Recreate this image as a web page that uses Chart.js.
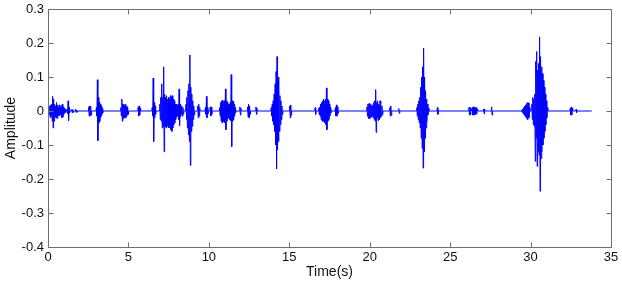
<!DOCTYPE html>
<html>
<head>
<meta charset="utf-8">
<script src="https://cdn.jsdelivr.net/npm/chart.js@4.4.1/dist/chart.umd.min.js"></script>
<style>
  html, body { margin: 0; padding: 0; background: #ffffff; }
  canvas { display: block; }
</style>
</head>
<body>
<canvas id="c" width="622" height="283"></canvas>
<script>
// ---- Data ----
const xTicks = [0, 5, 10, 15, 20, 25, 30, 35];
const yTicks = [-0.4, -0.3, -0.2, -0.1, 0, 0.1, 0.2, 0.3];
const signalStart = 0;
const signalEnd = 33.8;
const sampleStep = 0.03; // seconds between drawn samples inside a burst

// start time (s) of each burst of sound
const burstStart = [
  0.02, 1.16, 1.45, 2.50, 2.98, 4.50, 5.58, 6.45, 6.92, 8.55,
  9.28, 9.76, 10.06, 10.64, 11.90, 12.38, 12.90, 13.85, 15.00, 16.58,
  16.80, 17.84, 19.80, 20.55, 21.22, 21.78, 22.90, 24.18, 26.14, 26.35,
  27.05, 27.55, 29.42, 30.05, 32.44, 32.80
];

// signed sample amplitudes inside each burst
const burstAmps = [
  [0.01,-0.012,0.015,-0.02,0.018,-0.015,0.02,-0.03,0.043,-0.05,0.035,-0.03,0.02,-0.018,0.015,-0.02,0.025,-0.022,0.018,-0.015,0.012,-0.015,0.018,-0.012,0.01,-0.012,0.015,-0.02,0.02,-0.018,0.012,-0.01,0.008,-0.006,0.005,-0.004],
  [0.005,-0.008,0.03,-0.028,0.01,-0.006],
  [0.005,-0.005,0.004,-0.004,0,0,0,0,0.005,-0.004,0.003,-0.003],
  [0.012,-0.015,0.015,-0.013,0.014,-0.012],
  [0.01,-0.015,0.092,-0.087,0.04,-0.035,0.025,-0.03,0.02,-0.018,0.015,-0.012,0.008,-0.006],
  [0.01,-0.015,0.035,-0.03,0.02,-0.022,0.02,-0.02,0.018,-0.02,0.02,-0.018,0.015,-0.012,0.012,-0.01],
  [0.012,-0.015,0.015,-0.012,0.008],
  [0.01,-0.015,0.097,-0.09,0.025,-0.02,0.015,-0.01],
  [0.02,-0.025,0.04,-0.03,0.08,-0.05,0.04,-0.045,0.13,-0.12,0.05,-0.045,0.04,-0.05,0.045,-0.04,0.035,-0.045,0.04,-0.05,0.035,-0.04,0.045,-0.055,0.04,-0.06,0.045,-0.05,0.035,-0.04,0.03,-0.035,0.02,-0.025,0.02,-0.018,0.015,-0.015,0.02,-0.025,0.065,-0.043,0.02,-0.018,0.015,-0.012,0.01,-0.015,0.01,-0.008],
  [0.02,-0.025,0.04,-0.05,0.06,-0.07,0.08,-0.09,0.165,-0.16,0.07,-0.06,0.05,-0.045,0.03,-0.025,0.015,-0.012],
  [0.015,-0.02,0.02,-0.015,0.01],
  [0.01,-0.01,0.043,-0.02,0.01,-0.008],
  [0.012,-0.015,0.012,-0.01],
  [0.01,-0.015,0.025,-0.03,0.03,-0.035,0.032,-0.03,0.03,-0.032,0.03,-0.035,0.065,-0.055,0.03,-0.03,0.025,-0.022,0.018,-0.02,0.02,-0.025,0.025,-0.028,0.107,-0.105,0.03,-0.03,0.028,-0.025,0.02,-0.015,0.01,-0.006],
  [0.012,-0.012,0.008],
  [0.012,-0.018,0.02,-0.02,0.015,-0.01],
  [0.012,-0.01,0.008],
  [0.01,-0.015,0.02,-0.03,0.03,-0.04,0.05,-0.06,0.08,-0.1,0.116,-0.17,0.16,-0.114,0.1,-0.09,0.07,-0.06,0.045,-0.04,0.03,-0.025,0.015,-0.01],
  [0.015,-0.02,0.018,-0.012],
  [0.01,-0.01],
  [0.008,-0.01,0.012,-0.015,0.02,-0.025,0.025,-0.03,0.03,-0.03,0.035,-0.032,0.03,-0.035,0.035,-0.04,0.068,-0.055,0.035,-0.03,0.03,-0.025,0.02,-0.015,0.01,-0.006],
  [0.01,-0.015,0.018,-0.015,0.012,-0.008],
  [0.012,-0.015,0.02,-0.022,0.022,-0.022,0.022,-0.02,0.02,-0.018,0.015,-0.015,0.018,-0.02,0.025,-0.025,0.03,-0.03,0.063,-0.063,0.025,-0.02,0.03,-0.028,0.02,-0.015,0.01],
  [0.015,-0.025,0.03,-0.02,0.01,-0.015,0.015,-0.01],
  [0.01,-0.015,0.015,-0.012],
  [0.007,-0.007],
  [0.01,-0.015,0.02,-0.025,0.03,-0.035,0.04,-0.05,0.07,-0.08,0.1,-0.11,0.13,-0.168,0.185,-0.12,0.1,-0.08,0.06,-0.05,0.035,-0.03,0.02,-0.012,0.008],
  [0.01,-0.01],
  [0.01,-0.012,0.012,-0.01,0.008],
  [0.01,-0.012,0.012,-0.012,0.012,-0.01,0.008,-0.01,0.01,-0.008,0.006],
  [0.006,-0.008,0.006],
  [0.012,-0.012],
  [0.003,-0.004,0.006,-0.008,0.01,-0.012,0.014,-0.016,0.018,-0.02,0.022,-0.024,0.025,-0.025,0.024,-0.02,0.01],
  [0.02,-0.025,0.04,-0.04,0.035,-0.045,0.05,-0.148,0.146,-0.08,0.175,-0.163,0.12,-0.12,0.14,-0.13,0.218,-0.236,0.16,-0.14,0.13,-0.12,0.11,-0.1,0.09,-0.08,0.07,-0.06,0.05,-0.04,0.03,-0.02,0.01],
  [0.008,-0.012,0.012,-0.012,0.008],
  [0.005,-0.005]
];

// ---- Build the waveform points from the arrays ----
const wave = [{x: signalStart, y: 0}];
burstStart.forEach((t0, b) => {
  const amps = burstAmps[b];
  wave.push({x: t0, y: 0});
  amps.forEach((a, i) => wave.push({x: t0 + (i + 1) * sampleStep, y: a}));
  wave.push({x: t0 + (amps.length + 1) * sampleStep, y: 0});
});
wave.push({x: signalEnd, y: 0});

const FONT = "'Liberation Sans', Arial, sans-serif";
const AXIS_COLOR = '#6e6e6e';
const TEXT_COLOR = '#111111';

const frameTicks = {
  id: 'frameTicks',
  afterDraw(chart) {
    const {ctx, chartArea: a, scales} = chart;
    ctx.save();
    ctx.strokeStyle = AXIS_COLOR;
    ctx.lineWidth = 1;
    ctx.beginPath();
    const L = Math.round(a.left) + 0.5, R = Math.round(a.right) + 0.5;
    const T = Math.round(a.top) + 0.5, B = Math.round(a.bottom) + 0.5;
    ctx.rect(L, T, R - L, B - T);
    const len = 5;
    xTicks.forEach(v => {
      const px = Math.round(scales.x.getPixelForValue(v)) + 0.5;
      ctx.moveTo(px, B); ctx.lineTo(px, B - len);
      ctx.moveTo(px, T); ctx.lineTo(px, T + len);
    });
    yTicks.forEach(v => {
      const py = Math.round(scales.y.getPixelForValue(v)) + 0.5;
      ctx.moveTo(L, py); ctx.lineTo(L + len, py);
      ctx.moveTo(R, py); ctx.lineTo(R - len, py);
    });
    ctx.stroke();
    ctx.restore();
  }
};

new Chart(document.getElementById('c'), {
  type: 'scatter',
  data: {
    datasets: [{
      data: wave,
      showLine: true,
      borderColor: '#0000ff',
      backgroundColor: '#0000ff',
      borderWidth: 1,
      pointRadius: 0,
      pointHoverRadius: 0,
      tension: 0,
      fill: false
    }]
  },
  options: {
    responsive: false,
    devicePixelRatio: 1,
    animation: false,
    events: [],
    layout: { padding: { left: 0, right: 11, top: 9, bottom: 0 } },
    plugins: { legend: { display: false }, tooltip: { enabled: false } },
    scales: {
      x: {
        type: 'linear',
        min: 0, max: 35,
        afterBuildTicks(s) { s.ticks = xTicks.map(v => ({value: v})); },
        afterFit(s) { s.height = 36; s.paddingLeft = 0; s.paddingRight = 0; },
        grid: { display: false, drawTicks: false },
        border: { display: false },
        ticks: {
          color: TEXT_COLOR,
          font: { family: FONT, size: 13 },
          padding: 3,
          maxRotation: 0,
          callback: v => String(v)
        },
        title: {
          display: true,
          text: 'Time(s)',
          color: TEXT_COLOR,
          font: { family: FONT, size: 14 },
          padding: { top: 0, bottom: 2 }
        }
      },
      y: {
        type: 'linear',
        min: -0.4, max: 0.3,
        afterBuildTicks(s) { s.ticks = yTicks.map(v => ({value: v})); },
        afterFit(s) { s.width = 48; s.paddingTop = 0; s.paddingBottom = 0; },
        grid: { display: false, drawTicks: false },
        border: { display: false },
        ticks: {
          color: TEXT_COLOR,
          font: { family: FONT, size: 13 },
          padding: 4,
          callback: v => {
            const r = Math.round(v * 10) / 10;
            return r === 0 ? '0' : r.toFixed(1);
          }
        },
        title: {
          display: true,
          text: 'Amplitude',
          color: TEXT_COLOR,
          font: { family: FONT, size: 14 },
          padding: { top: 3, bottom: 0 }
        }
      }
    }
  },
  plugins: [frameTicks]
});
</script>
</body>
</html>
